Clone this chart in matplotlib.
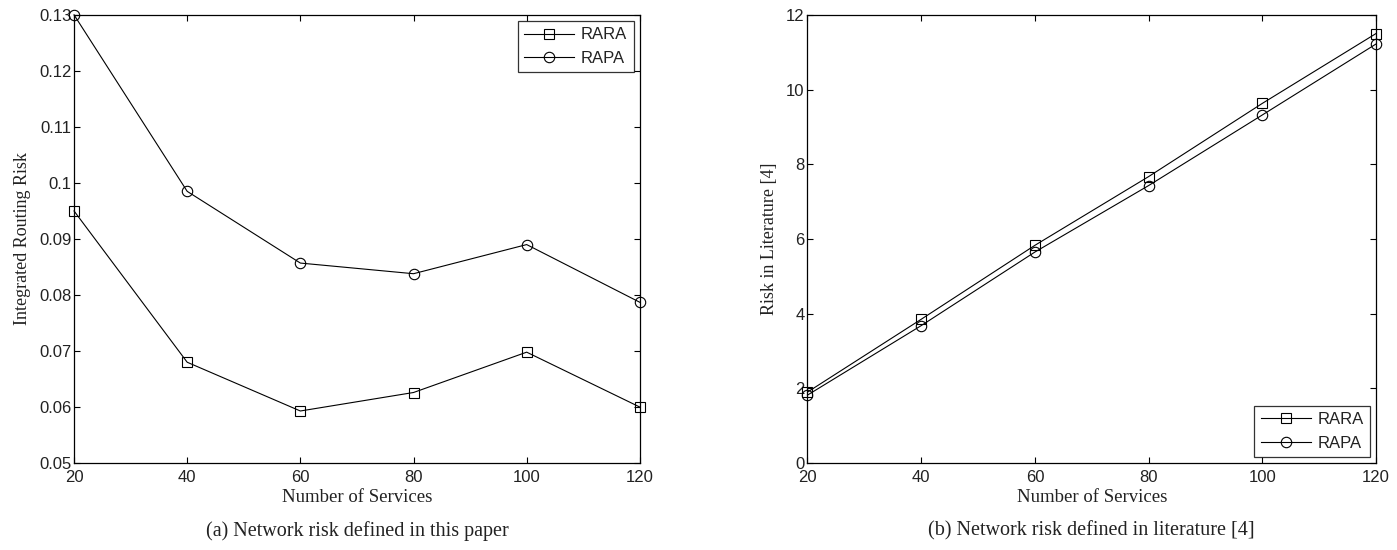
import matplotlib.pyplot as plt

services = [20, 40, 60, 80, 100, 120]

# (a) integrated routing risk
rara_a = [0.0950, 0.0680, 0.0593, 0.0626, 0.0698, 0.0600]
rapa_a = [0.1300, 0.0985, 0.0857, 0.0838, 0.0890, 0.0787]

# (b) risk defined in literature [4]
rara_b = [1.90, 3.85, 5.83, 7.67, 9.63, 11.50]
rapa_b = [1.82, 3.68, 5.65, 7.43, 9.32, 11.22]

sans = ['Liberation Sans', 'DejaVu Sans']
serif = ['Liberation Serif', 'DejaVu Serif']

fig = plt.figure(figsize=(13.97, 5.5), dpi=100)
ax1 = fig.add_axes([0.053, 0.158, 0.405, 0.815])
ax2 = fig.add_axes([0.578, 0.158, 0.407, 0.815])


def draw(ax, y1, y2, ylim, yticks, yfmt, ylabel, caption, legloc):
    ax.plot(services, y1, color='black', lw=0.8, marker='s', ms=7.5,
            mfc='none', mec='black', mew=0.8, label='RARA', clip_on=False)
    ax.plot(services, y2, color='black', lw=0.8, marker='o', ms=7.5,
            mfc='none', mec='black', mew=0.8, label='RAPA', clip_on=False)
    ax.set_xlim(20, 120)
    ax.set_ylim(*ylim)
    ax.set_xticks(services)
    ax.set_yticks(yticks)
    ax.set_yticklabels([yfmt(v) for v in yticks])
    ax.tick_params(direction='in', top=True, right=True, length=4,
                   width=0.8, labelsize=12, colors='black')
    ax.tick_params(axis='y', pad=2)
    ax.tick_params(axis='x', pad=5)
    for lab in ax.get_xticklabels() + ax.get_yticklabels():
        lab.set_family(sans)
        lab.set_color('#222222')
    for s in ax.spines.values():
        s.set_linewidth(0.9)
    ax.set_xlabel('Number of Services', family=serif, fontsize=13.5,
                  labelpad=3, color='#222222')
    ax.set_ylabel(ylabel, family=serif, fontsize=13, labelpad=6,
                  color='#222222')
    leg = ax.legend(loc=legloc, frameon=True, fancybox=False, edgecolor='black',
                    handlelength=3.0, handletextpad=0.4, borderaxespad=0.35,
                    prop={'family': sans, 'size': 12})
    leg.get_frame().set_linewidth(0.9)
    for t in leg.get_texts():
        t.set_color('#222222')
    ax.text(0.5, -0.152, caption, transform=ax.transAxes, ha='center',
            va='center', family=serif, fontsize=14.5, color='#222222')


def fmt_a(v):
    s = ('%.2f' % v).rstrip('0').rstrip('.')
    return s


draw(ax1, rara_a, rapa_a, (0.05, 0.13),
     [0.05, 0.06, 0.07, 0.08, 0.09, 0.10, 0.11, 0.12, 0.13], fmt_a,
     'Integrated Routing Risk', '(a) Network risk defined in this paper',
     'upper right')
draw(ax2, rara_b, rapa_b, (0, 12), [0, 2, 4, 6, 8, 10, 12],
     lambda v: '%d' % v, 'Risk in Literature [4]',
     '(b) Network risk defined in literature [4]', 'lower right')

fig.savefig('out.png', dpi=100)
